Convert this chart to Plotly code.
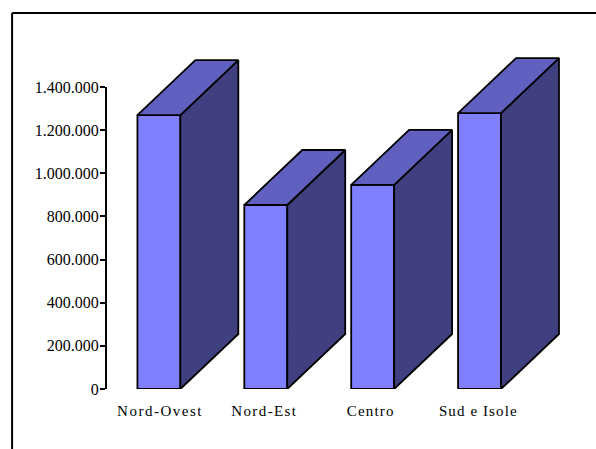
import plotly.graph_objects as go

categories = ["Nord-Ovest", "Nord-Est", "Centro", "Sud e Isole"]
values = [1270000, 853000, 946000, 1279000]
tick_values = [0, 200000, 400000, 600000, 800000, 1000000, 1200000, 1400000]

BAR_W = 43 / 107
DEPTH_X = 58 / 107
DEPTH_Y = 255000
FRONT, TOP, SIDE = "#8080FF", "#6060C0", "#404080"
INK = "#000000"
W, H = 596, 449
PLOT_L, PLOT_R, PLOT_T, PLOT_B = 105.5, 576, 40, 389
FRAME_X, FRAME_Y = 11.5, 13

positions = list(range(len(categories)))
# The original's labels are not quite centred under their bars.
label_positions = [p + s for p, s in zip(positions, (0.01, -0.014, -0.018, -0.012))]

top_x, top_y, side_x, side_y = [], [], [], []
for p, v in zip(positions, values):
    l, r = p - BAR_W / 2, p + BAR_W / 2
    top_x += [l, r, r + DEPTH_X, l + DEPTH_X, l, None]
    top_y += [v, v, v + DEPTH_Y, v + DEPTH_Y, v, None]
    side_x += [r, r + DEPTH_X, r + DEPTH_X, r, r, None]
    side_y += [0, DEPTH_Y, v + DEPTH_Y, v, 0, None]

line = dict(color=INK, width=1.8)
fig = go.Figure()
fig.add_trace(go.Bar(x=positions, y=values, width=BAR_W, marker=dict(color=FRONT, line=line),
                     hoverinfo="skip", showlegend=False))
for xs, ys, colour in ((side_x, side_y, SIDE), (top_x, top_y, TOP)):
    fig.add_trace(go.Scatter(x=xs, y=ys, mode="lines", fill="toself", fillcolor=colour,
                             line=line, hoverinfo="skip", showlegend=False))

y_font = dict(family="Liberation Serif", size=16, color="#000000")
x_font = dict(family="Liberation Serif", size=15, color="#000000")
pw, ph = PLOT_R - PLOT_L, PLOT_B - PLOT_T
fx = (FRAME_X - PLOT_L) / pw
fy = (PLOT_B - FRAME_Y) / ph
fig.update_layout(
    width=W, height=H, margin=dict(l=PLOT_L, r=W - PLOT_R, t=PLOT_T, b=H - PLOT_B),
    paper_bgcolor="white", plot_bgcolor="rgba(0,0,0,0)", separators=",.",
    xaxis=dict(range=[-0.495, -0.495 + pw / 107], tickvals=label_positions, ticktext=categories,
               showgrid=False, zeroline=False, showline=False, ticks="", tickfont=x_font,
               ticklabelstandoff=11),
    yaxis=dict(range=[0, 1400000 * ph / 302], tickvals=tick_values, tickformat=",d", showgrid=False,
               zeroline=False, showline=False, ticks="outside", ticklen=5, tickwidth=2,
               tickcolor=INK, tickfont=y_font, ticklabelstandoff=-2),
    shapes=[
        dict(type="line", xref="paper", yref="y", x0=0, x1=0, y0=0, y1=tick_values[-1],
             line=dict(color=INK, width=2)),
        dict(type="line", xref="paper", yref="paper", x0=fx, x1=2, y0=fy, y1=fy,
             line=dict(color=INK, width=2)),
        dict(type="line", xref="paper", yref="paper", x0=fx, x1=fx, y0=-1, y1=fy,
             line=dict(color=INK, width=2)),
    ],
)
fig.write_html("out.html", config=dict(displayModeBar=False), post_script="""
document.body.style.margin='0';
var sp=[1.5,1.4,1.2,1.1];
document.querySelectorAll('.xtick text').forEach(function(t,i){t.style.letterSpacing=sp[i]+'px';});
""")
